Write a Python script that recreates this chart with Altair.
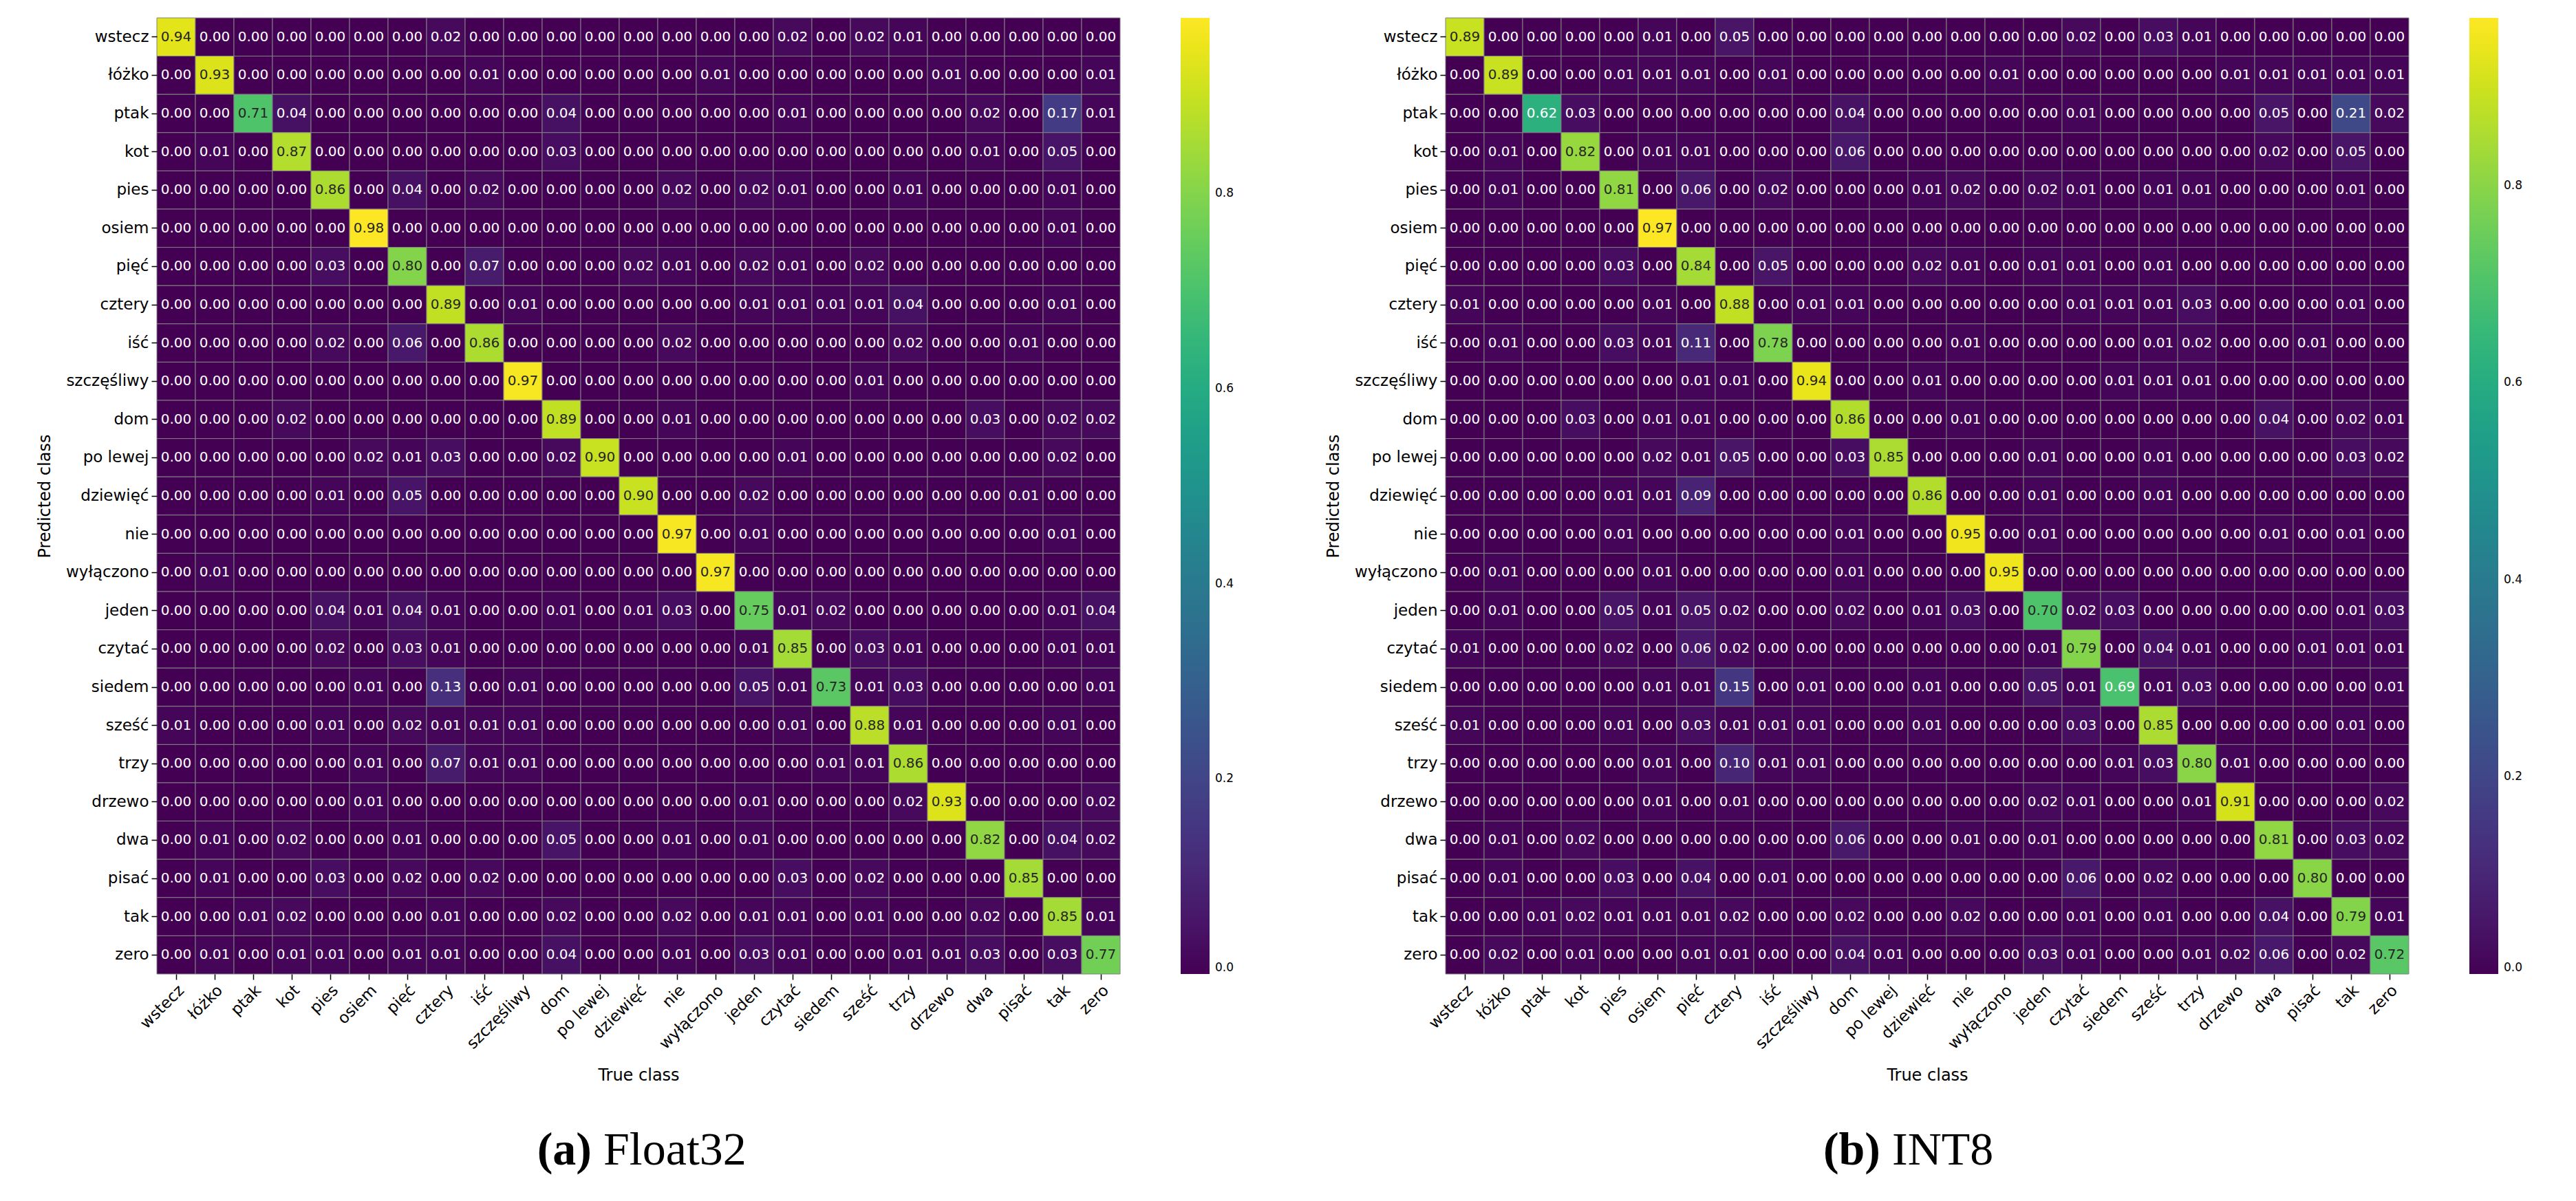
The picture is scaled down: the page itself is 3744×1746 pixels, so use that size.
import altair as alt
import pandas as pd

labels = ["wstecz", "łóżko", "ptak", "kot", "pies", "osiem", "pięć", "cztery", "iść",
          "szczęśliwy", "dom", "po lewej", "dziewięć", "nie", "wyłączono", "jeden",
          "czytać", "siedem", "sześć", "trzy", "drzewo", "dwa", "pisać", "tak", "zero"]

# rows = predicted class, columns = true class
float32 = [
    [0.94,0,0,0,0,0,0,0.02,0,0,0,0,0,0,0,0,0.02,0,0.02,0.01,0,0,0,0,0],
    [0,0.93,0,0,0,0,0,0,0.01,0,0,0,0,0,0.01,0,0,0,0,0,0.01,0,0,0,0.01],
    [0,0,0.71,0.04,0,0,0,0,0,0,0.04,0,0,0,0,0,0.01,0,0,0,0,0.02,0,0.17,0.01],
    [0,0.01,0,0.87,0,0,0,0,0,0,0.03,0,0,0,0,0,0,0,0,0,0,0.01,0,0.05,0],
    [0,0,0,0,0.86,0,0.04,0,0.02,0,0,0,0,0.02,0,0.02,0.01,0,0,0.01,0,0,0,0.01,0],
    [0,0,0,0,0,0.98,0,0,0,0,0,0,0,0,0,0,0,0,0,0,0,0,0,0.01,0],
    [0,0,0,0,0.03,0,0.80,0,0.07,0,0,0,0.02,0.01,0,0.02,0.01,0,0.02,0,0,0,0,0,0],
    [0,0,0,0,0,0,0,0.89,0,0.01,0,0,0,0,0,0.01,0.01,0.01,0.01,0.04,0,0,0,0.01,0],
    [0,0,0,0,0.02,0,0.06,0,0.86,0,0,0,0,0.02,0,0,0,0,0,0.02,0,0,0.01,0,0],
    [0,0,0,0,0,0,0,0,0,0.97,0,0,0,0,0,0,0,0,0.01,0,0,0,0,0,0],
    [0,0,0,0.02,0,0,0,0,0,0,0.89,0,0,0.01,0,0,0,0,0,0,0,0.03,0,0.02,0.02],
    [0,0,0,0,0,0.02,0.01,0.03,0,0,0.02,0.90,0,0,0,0,0.01,0,0,0,0,0,0,0.02,0],
    [0,0,0,0,0.01,0,0.05,0,0,0,0,0,0.90,0,0,0.02,0,0,0,0,0,0,0.01,0,0],
    [0,0,0,0,0,0,0,0,0,0,0,0,0,0.97,0,0.01,0,0,0,0,0,0,0,0.01,0],
    [0,0.01,0,0,0,0,0,0,0,0,0,0,0,0,0.97,0,0,0,0,0,0,0,0,0,0],
    [0,0,0,0,0.04,0.01,0.04,0.01,0,0,0.01,0,0.01,0.03,0,0.75,0.01,0.02,0,0,0,0,0,0.01,0.04],
    [0,0,0,0,0.02,0,0.03,0.01,0,0,0,0,0,0,0,0.01,0.85,0,0.03,0.01,0,0,0,0.01,0.01],
    [0,0,0,0,0,0.01,0,0.13,0,0.01,0,0,0,0,0,0.05,0.01,0.73,0.01,0.03,0,0,0,0,0.01],
    [0.01,0,0,0,0.01,0,0.02,0.01,0.01,0.01,0,0,0,0,0,0,0.01,0,0.88,0.01,0,0,0,0.01,0],
    [0,0,0,0,0,0.01,0,0.07,0.01,0.01,0,0,0,0,0,0,0,0.01,0.01,0.86,0,0,0,0,0],
    [0,0,0,0,0,0.01,0,0,0,0,0,0,0,0,0,0.01,0,0,0,0.02,0.93,0,0,0,0.02],
    [0,0.01,0,0.02,0,0,0.01,0,0,0,0.05,0,0,0.01,0,0.01,0,0,0,0,0,0.82,0,0.04,0.02],
    [0,0.01,0,0,0.03,0,0.02,0,0.02,0,0,0,0,0,0,0,0.03,0,0.02,0,0,0,0.85,0,0],
    [0,0,0.01,0.02,0,0,0,0.01,0,0,0.02,0,0,0.02,0,0.01,0.01,0,0.01,0,0,0.02,0,0.85,0.01],
    [0,0.01,0,0.01,0.01,0,0.01,0.01,0,0,0.04,0,0,0.01,0,0.03,0.01,0,0,0.01,0.01,0.03,0,0.03,0.77],
]

int8 = [
    [0.89,0,0,0,0,0.01,0,0.05,0,0,0,0,0,0,0,0,0.02,0,0.03,0.01,0,0,0,0,0],
    [0,0.89,0,0,0.01,0.01,0.01,0,0.01,0,0,0,0,0,0.01,0,0,0,0,0,0.01,0.01,0.01,0.01,0.01],
    [0,0,0.62,0.03,0,0,0,0,0,0,0.04,0,0,0,0,0,0.01,0,0,0,0,0.05,0,0.21,0.02],
    [0,0.01,0,0.82,0,0.01,0.01,0,0,0,0.06,0,0,0,0,0,0,0,0,0,0,0.02,0,0.05,0],
    [0,0.01,0,0,0.81,0,0.06,0,0.02,0,0,0,0.01,0.02,0,0.02,0.01,0,0.01,0.01,0,0,0,0.01,0],
    [0,0,0,0,0,0.97,0,0,0,0,0,0,0,0,0,0,0,0,0,0,0,0,0,0,0],
    [0,0,0,0,0.03,0,0.84,0,0.05,0,0,0,0.02,0.01,0,0.01,0.01,0,0.01,0,0,0,0,0,0],
    [0.01,0,0,0,0,0.01,0,0.88,0,0.01,0.01,0,0,0,0,0,0.01,0.01,0.01,0.03,0,0,0,0.01,0],
    [0,0.01,0,0,0.03,0.01,0.11,0,0.78,0,0,0,0,0.01,0,0,0,0,0.01,0.02,0,0,0.01,0,0],
    [0,0,0,0,0,0,0.01,0.01,0,0.94,0,0,0.01,0,0,0,0,0.01,0.01,0.01,0,0,0,0,0],
    [0,0,0,0.03,0,0.01,0.01,0,0,0,0.86,0,0,0.01,0,0,0,0,0,0,0,0.04,0,0.02,0.01],
    [0,0,0,0,0,0.02,0.01,0.05,0,0,0.03,0.85,0,0,0,0.01,0,0,0.01,0,0,0,0,0.03,0.02],
    [0,0,0,0,0.01,0.01,0.09,0,0,0,0,0,0.86,0,0,0.01,0,0,0.01,0,0,0,0,0,0],
    [0,0,0,0,0.01,0,0,0,0,0,0.01,0,0,0.95,0,0.01,0,0,0,0,0,0.01,0,0.01,0],
    [0,0.01,0,0,0,0.01,0,0,0,0,0.01,0,0,0,0.95,0,0,0,0,0,0,0,0,0,0],
    [0,0.01,0,0,0.05,0.01,0.05,0.02,0,0,0.02,0,0.01,0.03,0,0.70,0.02,0.03,0,0,0,0,0,0.01,0.03],
    [0.01,0,0,0,0.02,0,0.06,0.02,0,0,0,0,0,0,0,0.01,0.79,0,0.04,0.01,0,0,0.01,0.01,0.01],
    [0,0,0,0,0,0.01,0.01,0.15,0,0.01,0,0,0.01,0,0,0.05,0.01,0.69,0.01,0.03,0,0,0,0,0.01],
    [0.01,0,0,0,0.01,0,0.03,0.01,0.01,0.01,0,0,0.01,0,0,0,0.03,0,0.85,0,0,0,0,0.01,0],
    [0,0,0,0,0,0.01,0,0.10,0.01,0.01,0,0,0,0,0,0,0,0.01,0.03,0.80,0.01,0,0,0,0],
    [0,0,0,0,0,0.01,0,0.01,0,0,0,0,0,0,0,0.02,0.01,0,0,0.01,0.91,0,0,0,0.02],
    [0,0.01,0,0.02,0,0,0,0,0,0,0.06,0,0,0.01,0,0.01,0,0,0,0,0,0.81,0,0.03,0.02],
    [0,0.01,0,0,0.03,0,0.04,0,0.01,0,0,0,0,0,0,0,0.06,0,0.02,0,0,0,0.80,0,0],
    [0,0,0.01,0.02,0.01,0.01,0.01,0.02,0,0,0.02,0,0,0.02,0,0,0.01,0,0.01,0,0,0.04,0,0.79,0.01],
    [0,0.02,0,0.01,0,0,0.01,0.01,0,0,0.04,0.01,0,0,0,0.03,0.01,0,0,0.01,0.02,0.06,0,0.02,0.72],
]

cbar_ticks = [0.0, 0.2, 0.4, 0.6, 0.8]
W, H = 1400, 1390


def to_long(mat):
    rows = []
    for i, pred in enumerate(labels):
        for j, true in enumerate(labels):
            rows.append({"pred": pred, "true": true, "value": mat[i][j]})
    return pd.DataFrame(rows)


def panel(mat, vmax, letter, name):
    df = to_long(mat)
    base = alt.Chart(df).encode(
        x=alt.X("true:N", sort=labels, scale=alt.Scale(paddingInner=0, paddingOuter=0),
                axis=alt.Axis(title="True class", labelAngle=-45, labelAlign="right",
                              labelBaseline="top", titlePadding=22)),
        y=alt.Y("pred:N", sort=labels, scale=alt.Scale(paddingInner=0, paddingOuter=0),
                axis=alt.Axis(title="Predicted class", titlePadding=18)),
    )
    rect = base.mark_rect(stroke="#808080", strokeWidth=1).encode(
        color=alt.Color("value:Q",
                        scale=alt.Scale(scheme="viridis", domain=[0, vmax]),
                        legend=alt.Legend(title=None, orient="right", offset=88,
                                          gradientLength=H, gradientThickness=42,
                                          gradientStrokeWidth=0, values=cbar_ticks,
                                          format=".1f", labelFontSize=17,
                                          labelFont="DejaVu Sans", labelOverlap=False,
                                          labelColor="black", labelOffset=8))
    )
    text = base.mark_text(font="DejaVu Sans", fontSize=20, align="center",
                          baseline="middle").encode(
        text=alt.Text("value:Q", format=".2f"),
        color=alt.condition(alt.datum.value >= 0.695, alt.value("#262626"), alt.value("white")),
    )
    cap_a = alt.Chart(pd.DataFrame({"t": [letter]})).mark_text(
        font="Liberation Serif", fontSize=68, fontWeight="bold", align="right",
        baseline="middle").encode(text="t:N", x=alt.value(W / 2 - 68), y=alt.value(H + 257))
    cap_b = alt.Chart(pd.DataFrame({"t": [name]})).mark_text(
        font="Liberation Serif", fontSize=68, align="left",
        baseline="middle").encode(text="t:N", x=alt.value(W / 2 - 51), y=alt.value(H + 257))
    return alt.layer(rect, text, cap_a, cap_b).properties(width=W, height=H)


left = panel(float32, 0.98, "(a)", "Float32")
right = panel(int8, 0.97, "(b)", "INT8")

chart = alt.hconcat(left, right, spacing=132).resolve_scale(color="independent").properties(
    padding={"left": 53, "top": 25, "right": 10, "bottom": 5},
    background="white",
).configure_view(strokeWidth=0).configure_axis(
    labelFont="DejaVu Sans", labelFontSize=23, labelColor="black",
    titleFont="DejaVu Sans", titleFontSize=24, titleFontWeight="normal", titleColor="black",
    tickColor="black", tickSize=8, tickWidth=1.5, domain=False, labelPadding=4,
)

chart.save("out.html", embed_options={"renderer": "svg", "actions": False})
